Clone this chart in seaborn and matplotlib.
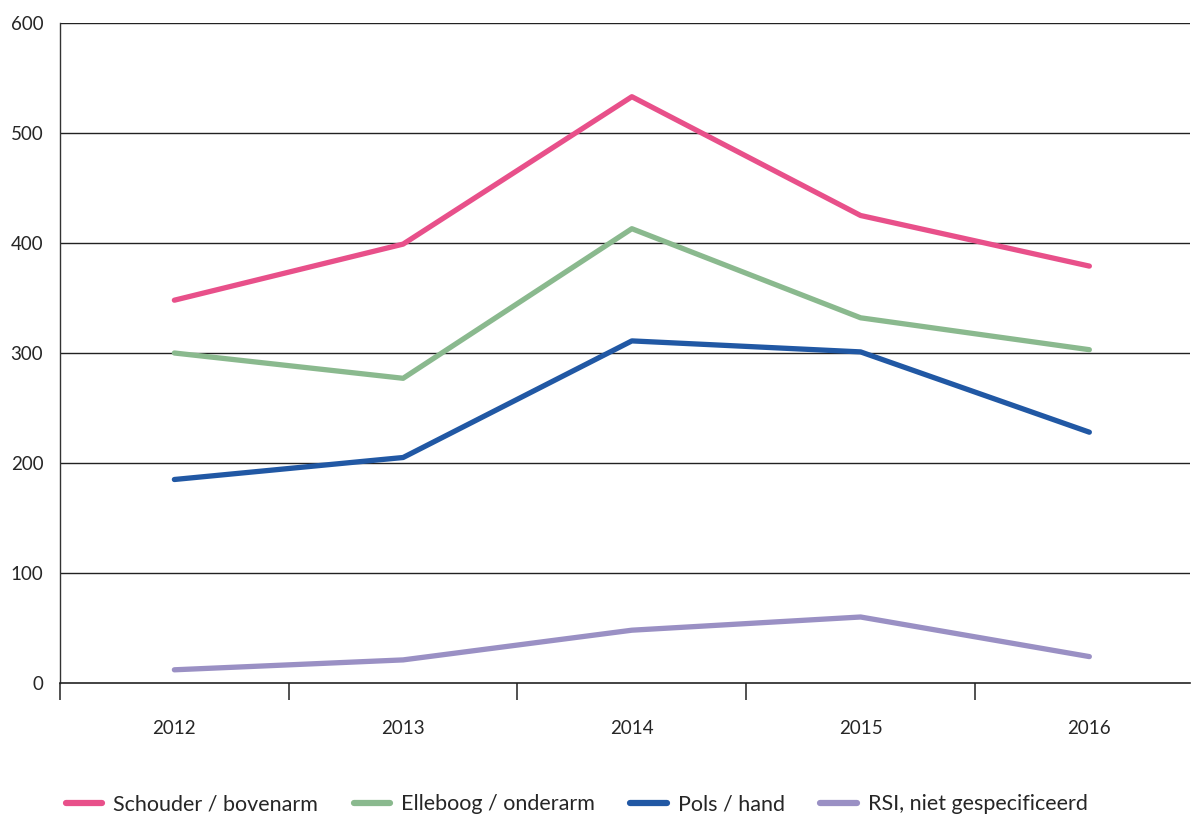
import numpy as np
import pandas as pd
import matplotlib
matplotlib.use("Agg")
import matplotlib.pyplot as plt
import seaborn as sns

years = ["2012", "2013", "2014", "2015", "2016"]
schouder = [348, 399, 533, 425, 379]
elleboog = [300, 277, 413, 332, 303]
pols = [185, 205, 311, 301, 228]
rsi = [12, 21, 48, 60, 24]
series_names = ["Schouder / bovenarm", "Elleboog / onderarm", "Pols / hand", "RSI, niet gespecificeerd"]
colors = ["#E8508A", "#8AB98E", "#2158A4", "#9A90C4"]
y_ticks = [0, 100, 200, 300, 400, 500, 600]

sns.set_style("white")
plt.rcParams["font.family"] = ["Lato", "DejaVu Sans"]

rows = []
for name, vals in zip(series_names, [schouder, elleboog, pols, rsi]):
    for i, v in enumerate(vals):
        rows.append({"pos": i, "jaar": years[i], "aantal": v, "reeks": name})
df = pd.DataFrame(rows)

fig = plt.figure(figsize=(11.91, 8.17), dpi=100)
ax = fig.add_axes([60 / 1191, 134 / 817, 1130 / 1191, 660 / 817])

sns.lineplot(data=df, x="pos", y="aantal", hue="reeks", hue_order=series_names,
             palette=colors, linewidth=3.8, ax=ax, legend=True,
             solid_capstyle="round")

ax.set_xlim(-0.5, 4.44)
ax.set_ylim(0, 600)
ax.set_yticks(y_ticks)
ax.set_yticklabels([str(t) for t in y_ticks], fontsize=13.5)
ax.tick_params(axis="y", length=0, pad=12)
for t in y_ticks[1:]:
    ax.axhline(t, color="#222222", linewidth=1.0, zorder=0)

ax.set_xticks(range(len(years)))
ax.set_xticklabels(years, fontsize=13.5)
ax.tick_params(axis="x", which="major", length=0, pad=27)
ax.set_xticks(np.arange(-0.5, 4.0, 1.0), minor=True)
ax.tick_params(axis="x", which="minor", bottom=True, length=12.5, width=1.2,
               color="#333333", direction="out")

for s in ["top", "right"]:
    ax.spines[s].set_visible(False)
ax.spines["left"].set_color("#333333")
ax.spines["bottom"].set_color("#222222")
ax.spines["left"].set_linewidth(1.0)
ax.spines["bottom"].set_linewidth(1.2)
ax.set_xlabel("")
ax.set_ylabel("")

handles, labels = ax.get_legend_handles_labels()
for h in handles:
    h.set_linewidth(4.5)
    h.set_solid_capstyle("round")
leg = ax.legend(handles, labels, loc="lower left", bbox_to_anchor=(-0.012, -0.228),
                ncol=4, frameon=False, fontsize=15.5, handlelength=1.7,
                handletextpad=0.5, columnspacing=1.65)

fig.savefig("out.png", dpi=100)
